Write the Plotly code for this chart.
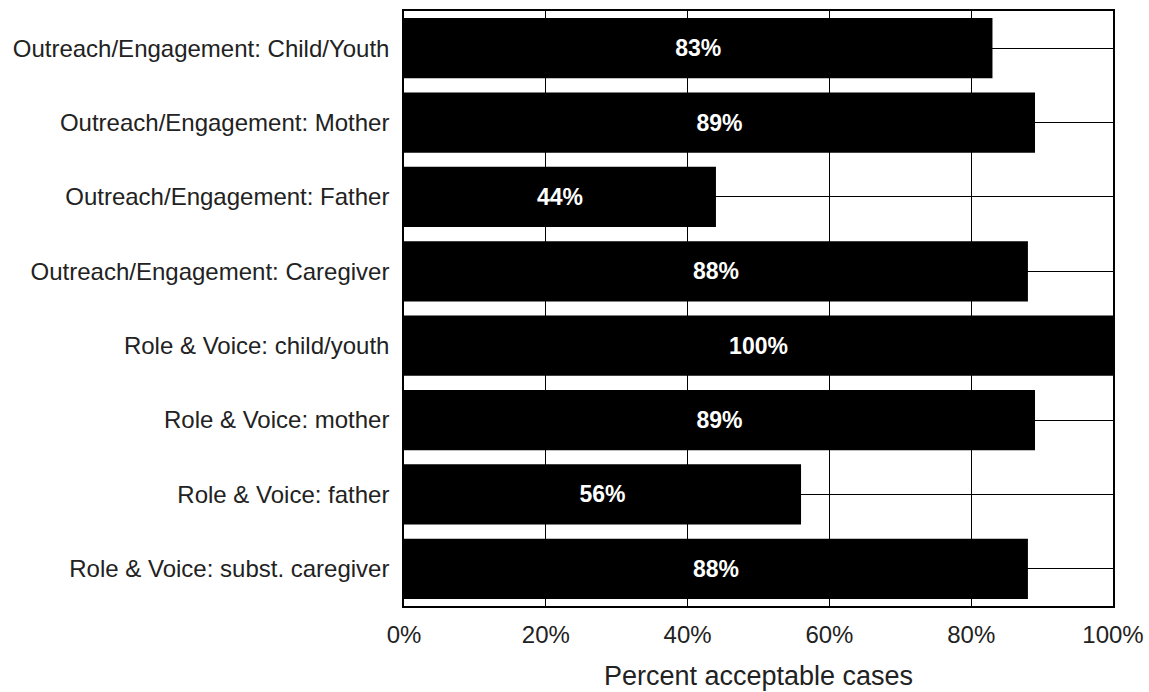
import plotly.graph_objects as go

# Review measures and share of cases rated acceptable
categories = [
    "Outreach/Engagement: Child/Youth",
    "Outreach/Engagement: Mother",
    "Outreach/Engagement: Father",
    "Outreach/Engagement: Caregiver",
    "Role & Voice: child/youth",
    "Role & Voice: mother",
    "Role & Voice: father",
    "Role & Voice: subst. caregiver",
]
percent_acceptable = [83, 89, 44, 88, 100, 89, 56, 88]
x_tick_values = [0, 20, 40, 60, 80, 100]
x_tick_labels = ["0%", "20%", "40%", "60%", "80%", "100%"]

fig = go.Figure(
    go.Bar(
        x=percent_acceptable,
        y=categories,
        orientation="h",
        marker=dict(color="black", line=dict(width=0)),
        text=[f"{v}%" for v in percent_acceptable],
        textposition="inside",
        insidetextanchor="middle",
        textfont=dict(family="Liberation Sans, Arial", size=23, color="white", weight="bold"),
        cliponaxis=False,
    )
)

fig.update_layout(
    width=1149,
    height=692,
    margin=dict(l=404, r=36, t=11, b=86, autoexpand=False),
    paper_bgcolor="white",
    plot_bgcolor="white",
    bargap=0.19,
    showlegend=False,
    font=dict(family="Liberation Sans, Arial", color="#222222"),
    uniformtext=dict(minsize=23, mode="show"),
)

fig.update_xaxes(
    range=[0, 100],
    tickvals=x_tick_values,
    ticktext=x_tick_labels,
    tickfont=dict(size=24),
    showgrid=True,
    gridcolor="black",
    gridwidth=1.3,
    showline=True,
    linecolor="black",
    linewidth=1.5,
    mirror=True,
    zeroline=False,
    ticks="",
    ticklabelstandoff=6,
    automargin=False,
    title=dict(text="Percent acceptable cases", font=dict(size=27), standoff=20),
)

fig.update_yaxes(
    autorange="reversed",
    tickfont=dict(size=24),
    showgrid=True,
    gridcolor="black",
    gridwidth=1.3,
    showline=True,
    linecolor="black",
    linewidth=1.5,
    mirror=True,
    ticks="",
    ticklabelstandoff=8,
    automargin=False,
)

fig.write_html("out.html")
